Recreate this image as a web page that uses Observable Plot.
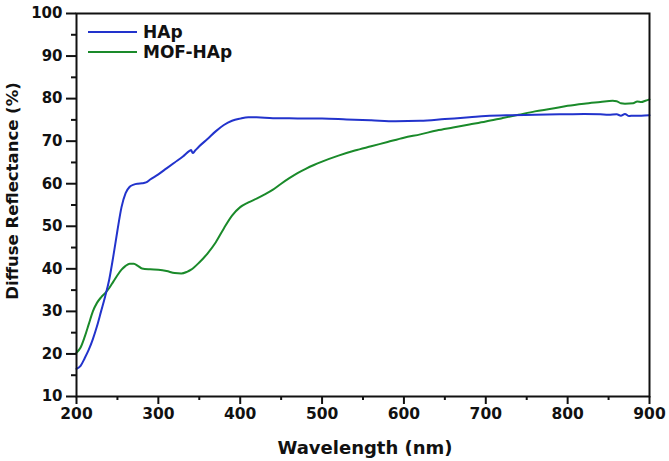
<!DOCTYPE html>
<html>
<head>
<meta charset="utf-8">
<script src="https://cdn.jsdelivr.net/npm/d3@7"></script>
<script src="https://cdn.jsdelivr.net/npm/@observablehq/plot@0.6"></script>
<style>
  html, body { margin: 0; padding: 0; background: #fff; }
  #wrap { position: relative; width: 669px; height: 461px; font-family: "DejaVu Sans", sans-serif; }
  #legend { position: absolute; left: 88px; top: 22px; font-weight: bold; font-size: 17px; color: #111; }
  #legend .row { display: flex; align-items: center; height: 20px; }
  #legend svg { margin-right: 6px; }
</style>
</head>
<body>
<div id="wrap">
  <div id="chart"></div>
  <div id="legend"></div>
</div>
<script>
// ---- data ----
const seriesNames = ["HAp", "MOF-HAp"];
const seriesColors = ["#2233cc", "#1a8a2a"];

const hapWavelength = [200,205,210,215,220,225,230,235,240,245,250,255,260,265,270,275,280,285,290,300,310,320,330,338,340,342,345,350,360,370,380,390,400,410,420,440,460,480,500,530,560,590,620,650,680,700,730,760,790,820,840,850,860,865,870,875,880,890,900];
const hapReflectance = [16.5,17.2,19,21,23.5,26.5,30,33.5,37.5,43,49,54.5,57.8,59.3,59.8,60,60.1,60.3,61,62.2,63.6,65,66.4,67.7,67.9,67.2,67.8,68.8,70.5,72.3,73.8,74.8,75.3,75.6,75.6,75.4,75.4,75.3,75.3,75.1,74.9,74.7,74.8,75.2,75.6,75.9,76.1,76.2,76.3,76.4,76.3,76.2,76.3,76.0,76.4,75.9,76.0,76.0,76.1];

const mofWavelength = [200,205,210,215,220,225,230,235,240,245,250,255,260,265,270,275,280,290,300,310,320,328,335,340,350,360,370,380,390,400,410,420,430,440,450,460,470,480,490,500,520,540,560,580,600,620,640,660,680,700,720,740,760,780,800,820,840,855,860,865,870,880,885,890,895,900];
const mofReflectance = [20.3,21.5,24,27,30,32,33.3,34.3,35.5,37,38.5,39.8,40.7,41.2,41.2,40.7,40.1,39.9,39.8,39.5,39.0,38.9,39.3,39.8,41.5,43.6,46.2,49.5,52.5,54.5,55.6,56.5,57.5,58.6,60,61.3,62.5,63.5,64.4,65.2,66.6,67.8,68.8,69.8,70.8,71.6,72.5,73.2,73.9,74.6,75.4,76.2,77.0,77.6,78.3,78.8,79.2,79.5,79.4,78.9,78.8,78.9,79.3,79.2,79.5,79.8];

const xMajorTicks = [200,300,400,500,600,700,800,900];
const xMinorTicks = [250,350,450,550,650,750,850];
const yMajorTicks = [10,20,30,40,50,60,70,80,90,100];
const yMinorTicks = [15,25,35,45,55,65,75,85,95];

const xTitle = "Wavelength (nm)";
const yTitle = "Diffuse Reflectance (%)";

// ---- build tables ----
const hap = hapWavelength.map((w, i) => ({w, r: hapReflectance[i]}));
const mof = mofWavelength.map((w, i) => ({w, r: mofReflectance[i]}));

const chart = Plot.plot({
  width: 669,
  height: 461,
  marginLeft: 76,
  marginRight: 20,
  marginTop: 13,
  marginBottom: 65,
  style: {fontFamily: "DejaVu Sans", fontWeight: "bold", fontSize: "15px", color: "#111", background: "#fff"},
  x: {domain: [200, 900]},
  y: {domain: [10, 100]},
  marks: [
    Plot.line(mof, {x: "w", y: "r", stroke: seriesColors[1], strokeWidth: 2, curve: "monotone-x"}),
    Plot.line(hap, {x: "w", y: "r", stroke: seriesColors[0], strokeWidth: 2, curve: "monotone-x"}),
    Plot.axisY(yMajorTicks, {tickSize: 10, tickPadding: 4, strokeWidth: 2, fontSize: 15, fontWeight: "bold", label: null}),
    Plot.axisY(yMinorTicks, {tickSize: 5, strokeWidth: 2, text: null, label: null}),
    Plot.axisX(xMajorTicks, {tickSize: 8, tickPadding: 3, strokeWidth: 2, fontSize: 15.5, fontWeight: "bold", label: null}),
    Plot.axisX(xMinorTicks, {tickSize: 4, strokeWidth: 2, text: null, label: null}),
    Plot.frame({stroke: "#111", strokeWidth: 2}),
    Plot.text([xTitle], {frameAnchor: "bottom", text: d => d, textAnchor: "middle", lineAnchor: "middle", dx: 2, dy: 52, fontSize: 18, fontWeight: "bold", fill: "#111"}),
    Plot.text([yTitle], {frameAnchor: "left", text: d => d, textAnchor: "middle", lineAnchor: "middle", rotate: -90, dx: -64, dy: -14, fontSize: 16.5, fontWeight: "bold", fill: "#111"})
  ]
});
document.getElementById("chart").appendChild(chart);

// ---- legend ----
const legend = document.getElementById("legend");
seriesNames.forEach((name, i) => {
  const row = document.createElement("div");
  row.className = "row";
  row.innerHTML = `<svg width="49" height="4"><line x1="0" x2="49" y1="2" y2="2" stroke="${seriesColors[i]}" stroke-width="2"/></svg><span>${name}</span>`;
  legend.appendChild(row);
});
</script>
</body>
</html>
